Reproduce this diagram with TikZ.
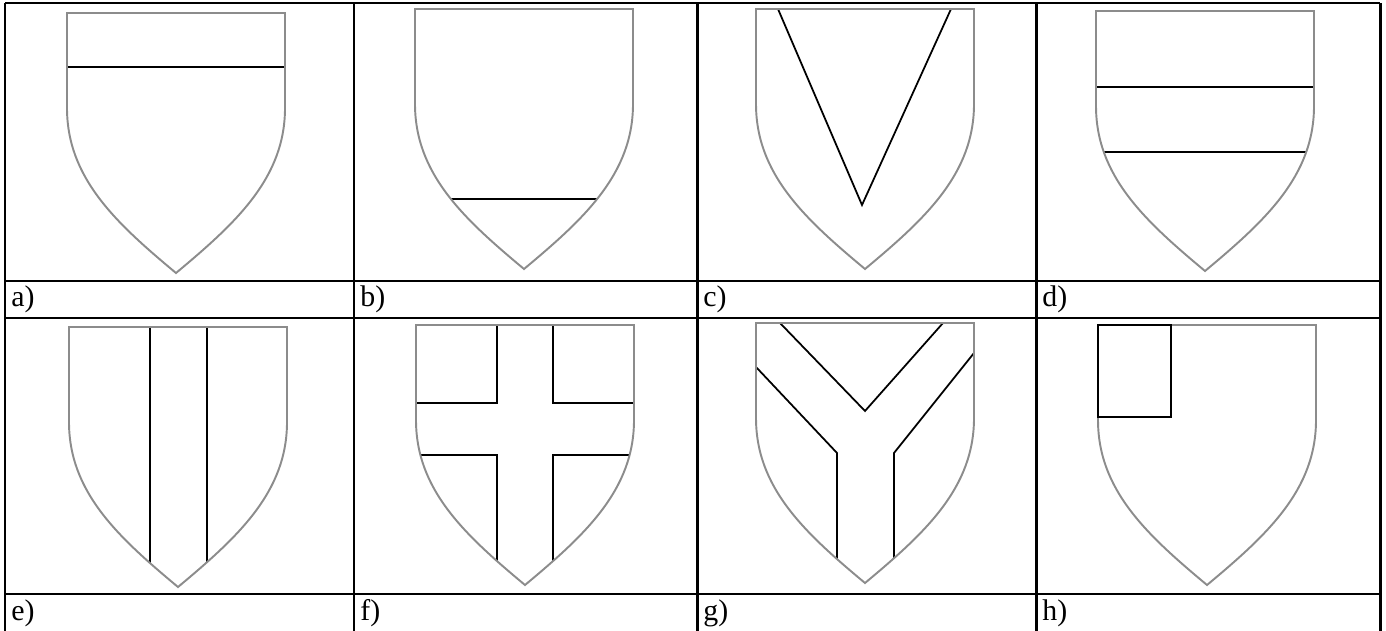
\documentclass[tikz,border=0pt]{standalone}
\usepackage{fontspec}
\setmainfont{Liberation Serif}

% outline of one shield, top left corner at (0,0)
\newcommand{\shieldoutline}{(0,0) -- (218,0) -- (218,95)
  .. controls (218,165) and (169,210) .. (109,260)
  .. controls (49,210) and (0,165) .. (0,95) -- cycle}
% shield at #1 with the charges #2 clipped to it
\newcommand{\shield}[2]{%
  \begin{scope}[shift={#1}]
    \begin{scope}
      \clip \shieldoutline;
      #2
    \end{scope}
    \draw[rim] \shieldoutline;
  \end{scope}}

\begin{document}
\begin{tikzpicture}[x=0.02cm, y=-0.02cm,
        rim/.style={draw=black!45, line width=1.1pt},
        charge/.style={draw=black, line width=1pt},
        grid/.style={line width=1.7pt},
        lbl/.style={anchor=base west, inner sep=0pt,
                    font=\fontsize{17}{20}\selectfont}]
    \useasboundingbox (0,0) rectangle (1386,631);

    % table
    \foreach \x in {5,354,697,1036,1380}
        \draw[grid] (\x,3) -- (\x,631);
    \foreach \y in {3,281,318,594}
        \draw[grid] (5,\y) -- (1380,\y);

    % first row
    \shield{(67,13)}{\draw[charge] (0,54) -- (218,54);}
    \shield{(415,9)}{\draw[charge] (0,190) -- (218,190);}
    \shield{(756,9)}{\draw[charge] (22,0) -- (106,196) -- (195,0);}
    \shield{(1096,11)}{\draw[charge] (0,76) -- (218,76);
                       \draw[charge] (0,141) -- (218,141);}

    % second row
    \shield{(69,327)}{\draw[charge] (81,0) -- (81,260);
                      \draw[charge] (138,0) -- (138,260);}
    \shield{(416,325)}{\draw[charge] (81,0) -- (81,78) -- (0,78);
                       \draw[charge] (137,0) -- (137,78) -- (218,78);
                       \draw[charge] (0,130) -- (81,130) -- (81,260);
                       \draw[charge] (218,130) -- (137,130) -- (137,260);}
    \shield{(756,323)}{\draw[charge] (24,0) -- (109,88) -- (187,0);
                       \draw[charge] (0,44) -- (81,130) -- (81,260);
                       \draw[charge] (218,30) -- (138,130) -- (138,260);}
    \shield{(1098,325)}{}
    \draw[charge, shift={(1098,325)}] (0,0) rectangle (73,92);

    % labels
    \node[lbl] (la) at (11,307) {a)};
    \node[lbl] (lb) at (360,307) {b)};
    \node[lbl] (lc) at (703,307) {c)};
    \node[lbl] (ld) at (1042,307) {d)};
    \node[lbl] (le) at (11,620) {e)};
    \node[lbl] (lf) at (360,620) {f)};
    \node[lbl] (lg) at (703,620) {g)};
    \node[lbl] (lh) at (1042,620) {h)};
\end{tikzpicture}
\end{document}
